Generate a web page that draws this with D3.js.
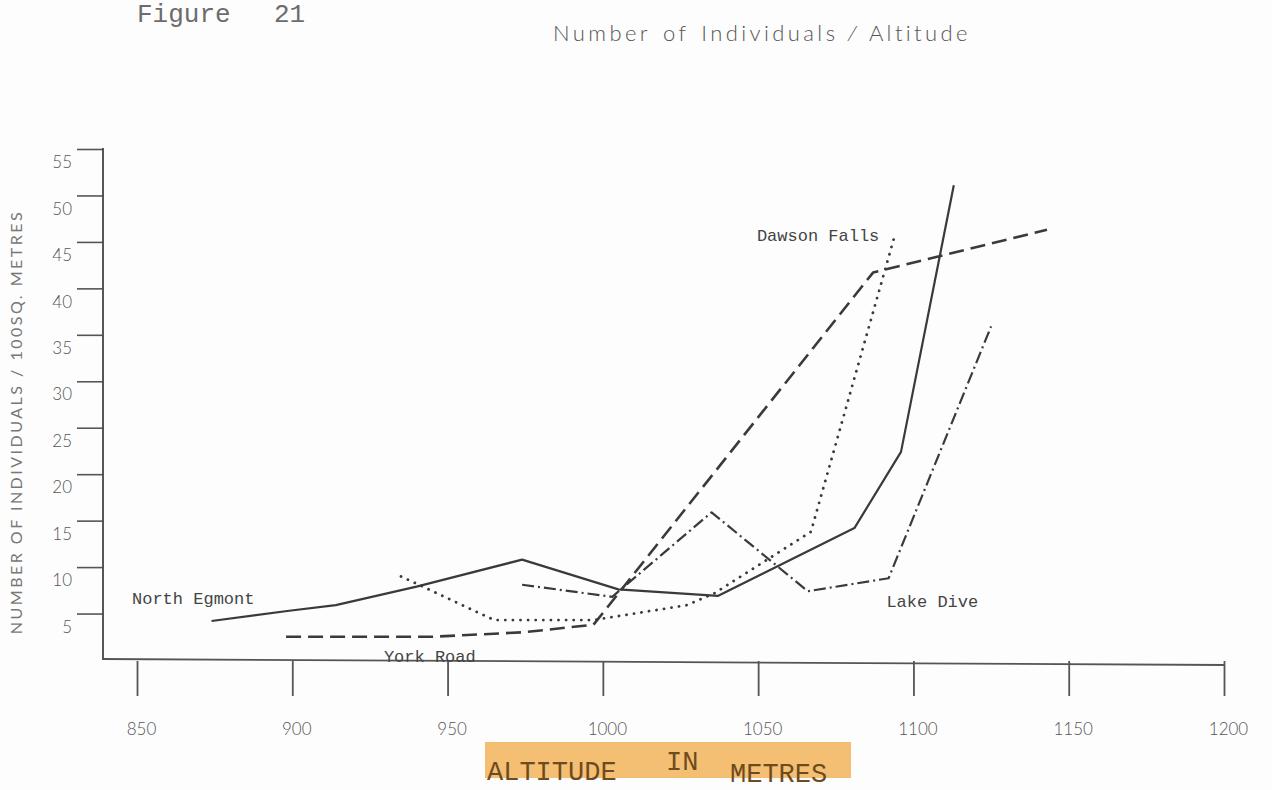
<!DOCTYPE html>
<html>
<head>
<meta charset="utf-8">
<script src="https://cdn.jsdelivr.net/npm/d3@7/dist/d3.min.js"></script>
<style>
  body { margin: 0; background: #fdfdfd; }
  svg { display: block; }
</style>
</head>
<body>
<svg id="chart" width="1272" height="790"></svg>
<script>
// Axis ticks
const altitudeTicks = [850, 900, 950, 1000, 1050, 1100, 1150, 1200];
const countTicks = [5, 10, 15, 20, 25, 30, 35, 40, 45, 50, 55];

// Series: [altitude (m), individuals per 100 sq. metres]
const northEgmont = [[874, 4.2], [899, 5.3], [914, 5.9], [940, 7.9], [974, 10.8], [1005, 7.6], [1037, 6.9], [1081, 14.2], [1096, 22.4], [1113, 51.1]];
const yorkRoad = [[898, 2.5], [945, 2.5], [975, 3.0], [997, 3.8], [1087, 41.7], [1143, 46.3]];
const dawsonFalls = [[935, 9.0], [965, 4.3], [997, 4.3], [1027, 5.9], [1036, 7.2], [1067, 13.8], [1094, 45.7]];
const lakeDive = [[974, 8.1], [1003, 6.8], [1035, 15.9], [1066, 7.4], [1092, 8.8], [1125, 35.9]];

// Site names, anchored in data units
const siteNames = ["North Egmont", "York Road", "Dawson Falls", "Lake Dive"];
const siteNameAnchors = [[848.4, 6.0], [929.5, -0.2], [1049.6, 45.1], [1091.3, 5.7]];

const svg = d3.select("#chart");
const x = d3.scaleLinear().domain([850, 1200]).range([137, 1224]);
const y = d3.scaleLinear().domain([0, 55]).range([660, 149]);

const ink = "#3a3a3a";
const typewriter = "'Liberation Mono', 'DejaVu Sans Mono', monospace";
const gothic = "Lato, 'Open Sans', sans-serif";

// Heading
const fig = svg.append("g")
  .attr("font-family", typewriter).attr("font-size", 26).attr("fill", "#6c6c6c");
fig.append("text").attr("x", 137).attr("y", 22).text("Figure");
fig.append("text").attr("x", 274).attr("y", 22).text("21");

svg.append("text")
  .attr("x", 762).attr("y", 41)
  .attr("text-anchor", "middle")
  .attr("font-family", gothic).attr("font-size", 22).attr("font-weight", 300)
  .attr("letter-spacing", 3.4).attr("word-spacing", 3)
  .attr("fill", "#555")
  .text("Number of Individuals \u2044 Altitude");

// Y axis
const yAxis = svg.append("g")
  .attr("transform", "translate(103,0)")
  .call(d3.axisLeft(y).tickValues(countTicks).tickSize(26).tickFormat(d3.format("d")));
yAxis.select(".domain").remove();
yAxis.selectAll(".tick line").attr("stroke", "#555").attr("stroke-width", 1.6);
yAxis.selectAll(".tick text")
  .attr("x", -31).attr("dy", "1.1em")
  .attr("font-family", gothic).attr("font-size", 17).attr("font-weight", 300)
  .attr("fill", "#555");
svg.append("line")
  .attr("x1", 103).attr("x2", 103).attr("y1", y(55) - 1).attr("y2", 660)
  .attr("stroke", "#444").attr("stroke-width", 1.8);

// X axis (the ruled base line sags slightly to the right)
const xAxis = svg.append("g")
  .attr("transform", "translate(0,661)")
  .call(d3.axisBottom(x).tickValues(altitudeTicks).tickSize(35).tickFormat(d3.format("d")));
xAxis.select(".domain").remove();
xAxis.selectAll(".tick line").attr("stroke", "#555").attr("stroke-width", 1.8);
xAxis.selectAll(".tick text")
  .attr("y", 62).attr("dx", 4)
  .attr("font-family", gothic).attr("font-size", 17).attr("font-weight", 300)
  .attr("fill", "#555");
svg.append("line")
  .attr("x1", 102).attr("x2", x(1200) + 1).attr("y1", 659).attr("y2", 665)
  .attr("stroke", "#555").attr("stroke-width", 1.8);

// Y axis title
svg.append("text")
  .attr("transform", "translate(22,422) rotate(-90)")
  .attr("text-anchor", "middle")
  .attr("font-family", gothic).attr("font-size", 16)
  .attr("letter-spacing", 2.5)
  .attr("fill", "#777")
  .text("NUMBER OF INDIVIDUALS / 100SQ. METRES");

// X axis title on its highlight band
svg.append("rect")
  .attr("x", 485).attr("y", 742).attr("width", 366).attr("height", 36)
  .attr("fill", "#f2b45a").attr("opacity", 0.85);
const xTitle = svg.append("g")
  .attr("font-family", typewriter).attr("font-size", 27).attr("fill", "#6e4b1f");
xTitle.append("text").attr("x", 487).attr("y", 780).text("ALTITUDE");
xTitle.append("text").attr("x", 666).attr("y", 770).text("IN");
xTitle.append("text").attr("x", 730).attr("y", 782).text("METRES");

// Series lines
const line = d3.line().x(d => x(d[0])).y(d => y(d[1]));
const series = [
  { data: northEgmont, width: 2.2, dash: null, cap: "butt" },
  { data: yorkRoad, width: 2.6, dash: "15,7", cap: "butt" },
  { data: dawsonFalls, width: 2.8, dash: "0.1,7.5", cap: "round" },
  { data: lakeDive, width: 2.2, dash: "12,4,2,4", cap: "butt" }
];
svg.append("g").selectAll("path")
  .data(series)
  .join("path")
  .attr("d", d => line(d.data))
  .attr("fill", "none")
  .attr("stroke", ink)
  .attr("stroke-width", d => d.width)
  .attr("stroke-linecap", d => d.cap)
  .attr("stroke-linejoin", "round")
  .attr("stroke-dasharray", d => d.dash);

// Site names
svg.append("g").selectAll("text")
  .data(siteNames)
  .join("text")
  .attr("x", (d, i) => x(siteNameAnchors[i][0]))
  .attr("y", (d, i) => y(siteNameAnchors[i][1]))
  .attr("font-family", typewriter).attr("font-size", 17)
  .attr("fill", "#444")
  .text(d => d);
</script>
</body>
</html>
